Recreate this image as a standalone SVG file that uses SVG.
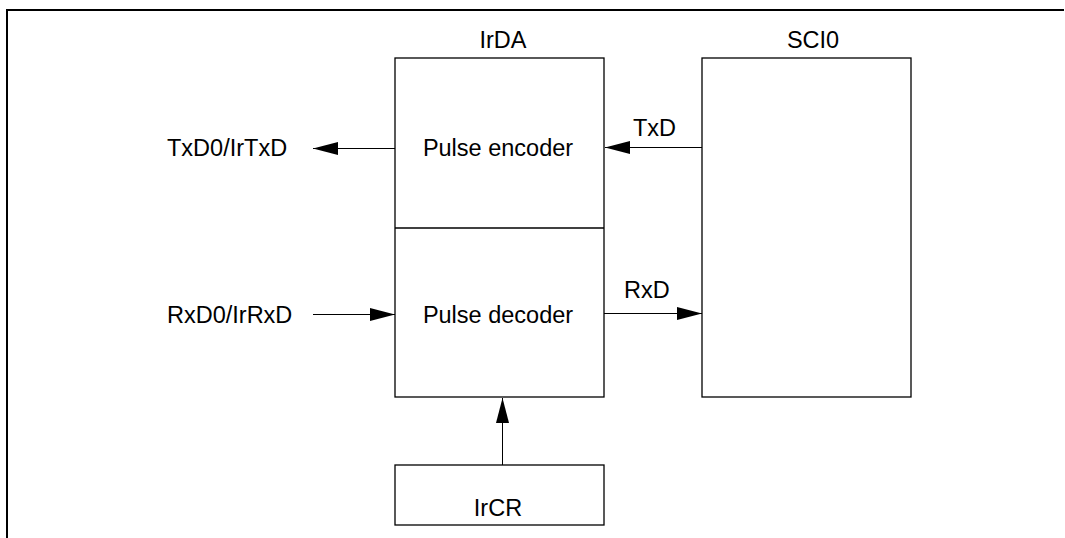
<svg xmlns="http://www.w3.org/2000/svg" width="1065" height="538" viewBox="0 0 1065 538">
  <style>
    .box { fill: #fff; stroke: #000; stroke-width: 1.3; }
    .lbl { font-family: "Liberation Sans", Arial, sans-serif; font-size: 23.5px; fill: #000; }
    .mid { text-anchor: middle; }
    .conn { stroke: #000; stroke-width: 1; fill: none; marker-end: url(#arrow); }
  </style>
  <defs>
    <marker id="arrow" markerUnits="userSpaceOnUse" markerWidth="25" markerHeight="13" refX="25" refY="6.5" orient="auto">
      <path d="M0,0 L25,6.5 L0,13 z" fill="#000"/>
    </marker>
  </defs>
  <rect width="1065" height="538" fill="#fff"/>
  <path d="M7,538 V10 H1064" fill="none" stroke="#000" stroke-width="2"/>

  <g id="irda">
    <rect class="box" x="395" y="58" width="209" height="339"/>
    <line x1="395" y1="228" x2="604" y2="228" stroke="#000" stroke-width="1.3"/>
    <text class="lbl mid" x="503" y="48">IrDA</text>
  </g>
  <g id="pulse-encoder">
    <text class="lbl mid" x="498" y="156">Pulse encoder</text>
  </g>
  <g id="pulse-decoder">
    <text class="lbl mid" x="498" y="323">Pulse decoder</text>
  </g>
  <g id="sci0">
    <rect class="box" x="702" y="58" width="209" height="339"/>
    <text class="lbl mid" x="813" y="48">SCI0</text>
  </g>
  <g id="ircr">
    <rect class="box" x="395" y="465" width="209" height="60"/>
    <text class="lbl mid" x="498" y="516">IrCR</text>
  </g>
  <g id="txd0-pin">
    <text class="lbl" x="167" y="156">TxD0/IrTxD</text>
  </g>
  <g id="rxd0-pin">
    <text class="lbl" x="167" y="323">RxD0/IrRxD</text>
  </g>

  <g id="connectors">
    <line class="conn" x1="702" y1="147.5" x2="605" y2="147.5"/>
    <line class="conn" x1="395" y1="148.5" x2="313" y2="148.5"/>
    <line class="conn" x1="313" y1="314.5" x2="395" y2="314.5"/>
    <line class="conn" x1="604" y1="313.5" x2="702" y2="313.5"/>
    <line class="conn" x1="502.5" y1="465" x2="502.5" y2="398"/>
    <text class="lbl" x="633" y="136">TxD</text>
    <text class="lbl" x="624" y="298">RxD</text>
  </g>
</svg>
